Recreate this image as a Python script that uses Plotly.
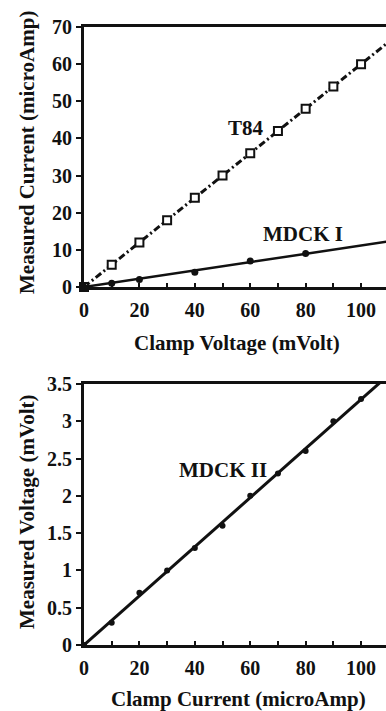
import numpy as np
import plotly.graph_objects as go

# ---- data ----
clamp_voltage = [0, 10, 20, 30, 40, 50, 60, 70, 80, 90, 100]
t84_current = [0, 6, 12, 18, 24, 30, 36, 42, 48, 54, 60]

mdck1_voltage = [0, 10, 20, 40, 60, 80]
mdck1_current = [0, 1, 2, 4, 7, 9]

clamp_current = [0, 10, 20, 30, 40, 50, 60, 70, 80, 90, 100]
mdck2_voltage = [0, 0.3, 0.7, 1.0, 1.3, 1.6, 2.0, 2.3, 2.6, 3.0, 3.3]

x_tick_vals = [0, 20, 40, 60, 80, 100]
y1_tick_vals = [0, 10, 20, 30, 40, 50, 60, 70]
y2_tick_vals = [0, 0.5, 1, 1.5, 2, 2.5, 3, 3.5]
y2_tick_text = ["0", "0.5", "1", "1.5", "2", "2.5", "3", "3.5"]

X_RANGE = [0, 109]


def fit_origin(x, y):
    x = np.asarray(x, float)
    y = np.asarray(y, float)
    return float((x * y).sum() / (x * x).sum())


fit_x = np.array([0, X_RANGE[1] + 5])
FONT = "Liberation Serif"
BLACK = "#111111"

fig = go.Figure()

# top panel
fig.add_trace(go.Scatter(x=fit_x, y=fit_origin(clamp_voltage, t84_current) * fit_x,
                         mode="lines", line=dict(color=BLACK, width=3, dash="7px,3px,2px,3px"),
                         xaxis="x", yaxis="y", showlegend=False))
fig.add_trace(go.Scatter(x=fit_x, y=fit_origin(mdck1_voltage, mdck1_current) * fit_x,
                         mode="lines", line=dict(color=BLACK, width=2.5),
                         xaxis="x", yaxis="y", showlegend=False))
fig.add_trace(go.Scatter(x=clamp_voltage, y=t84_current, mode="markers",
                         marker=dict(symbol="square", size=8, color="white",
                                     line=dict(color=BLACK, width=2)),
                         cliponaxis=False, xaxis="x", yaxis="y", showlegend=False))
fig.add_trace(go.Scatter(x=mdck1_voltage, y=mdck1_current, mode="markers",
                         marker=dict(symbol="circle", size=7, color=BLACK),
                         cliponaxis=False, xaxis="x", yaxis="y", showlegend=False))

# bottom panel
fig.add_trace(go.Scatter(x=fit_x, y=fit_origin(clamp_current, mdck2_voltage) * fit_x,
                         mode="lines", line=dict(color=BLACK, width=3),
                         xaxis="x2", yaxis="y2", showlegend=False))
fig.add_trace(go.Scatter(x=clamp_current, y=mdck2_voltage, mode="markers",
                         marker=dict(symbol="circle", size=6, color=BLACK),
                         cliponaxis=False, xaxis="x2", yaxis="y2", showlegend=False))

tick_font = dict(family=FONT, size=20, color=BLACK, weight="bold")
title_font = dict(family=FONT, size=21, color=BLACK, weight="bold")

xcommon = dict(range=X_RANGE, tickvals=x_tick_vals, ticks="inside", ticklen=4, tickwidth=2,
               tickcolor=BLACK, showline=True, linecolor=BLACK, linewidth=3, mirror=True,
               showgrid=False, zeroline=False, tickfont=tick_font, automargin=False,
               ticklabelstandoff=3,
               minor=dict(dtick=10, ticks="inside", ticklen=4, tickwidth=2, tickcolor=BLACK))
ycommon = dict(ticks="outside", ticklen=5, tickwidth=2, tickcolor=BLACK, showline=True,
               linecolor=BLACK, linewidth=3, mirror=False, showgrid=False, zeroline=False,
               tickfont=tick_font, automargin=False)

H = 711
fig.update_layout(
    width=386, height=H,
    margin=dict(l=84, r=0, t=0, b=0),
    paper_bgcolor="white", plot_bgcolor="white",
    xaxis=dict(domain=[0, 1], anchor="y", **xcommon),
    yaxis=dict(domain=[1 - 287 / H, 1 - 27 / H], range=[0, 70], tickvals=y1_tick_vals,
               anchor="x", **ycommon),
    xaxis2=dict(domain=[0, 1], anchor="y2", **xcommon),
    yaxis2=dict(domain=[1 - 645 / H, 1 - 384 / H], range=[0, 3.5], tickvals=y2_tick_vals,
                ticktext=y2_tick_text, anchor="x2", **ycommon),
)

C = dict(showarrow=False, font=title_font, xanchor="center", yanchor="middle")
annotations = [
    dict(text="T84", x=58.4, y=42.7, xref="x", yref="y", **C),
    dict(text="MDCK I", x=79, y=14.2, xref="x", yref="y", **C),
    dict(text="MDCK II", x=50, y=2.34, xref="x2", yref="y2", **C),
    dict(text="Clamp Voltage (mVolt)", x=0.507, y=1 - 343 / H, xref="paper", yref="paper", **C),
    dict(text="Clamp Current (microAmp)", x=0.513, y=1 - 699 / H, xref="paper", yref="paper", **C),
    dict(text="Measured Current (microAmp)", x=-57 / 302, y=1 - 153 / H, xref="paper",
         yref="paper", textangle=-90, **C),
    dict(text="Measured Voltage (mVolt)", x=-57 / 302, y=1 - 512 / H, xref="paper",
         yref="paper", textangle=-90, **C),
]
fig.update_layout(annotations=annotations)

fig.write_html("out.html")
